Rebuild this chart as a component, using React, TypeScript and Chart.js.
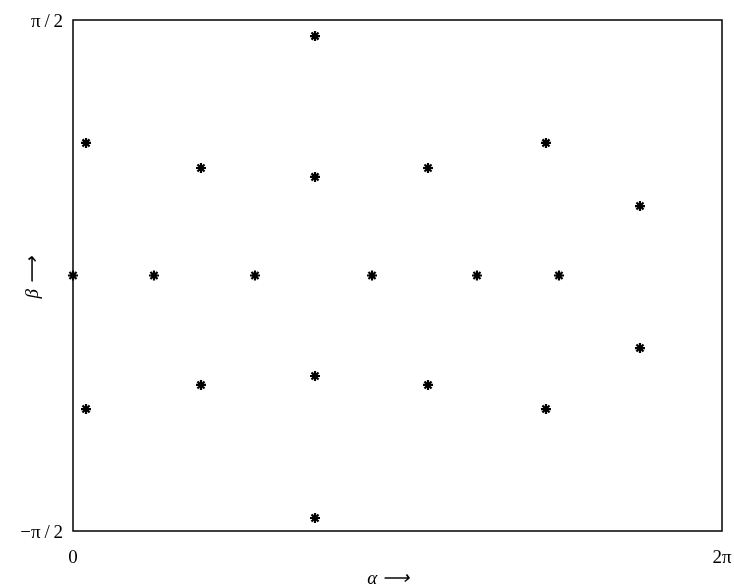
import React, { useEffect, useRef } from "react";
import { Chart, registerables } from "chart.js";

Chart.register(...registerables);

// Data (radians)
const alphaValues = [2.343, 0.126, 4.579, 1.239, 3.437, 2.343, 5.489, 0, 0.784, 1.762, 2.895, 3.911, 4.705, 5.489, 2.343, 1.239, 3.437, 0.126, 4.579, 2.343];
const betaValues = [1.472, 0.815, 0.815, 0.661, 0.661, 0.606, 0.427, 0, 0, 0, 0, 0, 0, -0.446, -0.618, -0.673, -0.673, -0.821, -0.821, -1.491];

const xTickValues = [0, 2 * Math.PI];
const xTickLabels = ["0", "2π"];
const yTickValues = [-Math.PI / 2, Math.PI / 2];
const yTickLabels = ["−π\u2009/\u20092", "π\u2009/\u20092"];
const xTitle = "α ⟶";
const yTitle = "β ⟶";

const boxAndTitles = {
  id: "boxAndTitles",
  afterDraw(chart: any) {
    const { ctx, chartArea } = chart;
    ctx.save();
    ctx.strokeStyle = "#000";
    ctx.lineWidth = 1.5;
    ctx.strokeRect(chartArea.left, chartArea.top, chartArea.right - chartArea.left, chartArea.bottom - chartArea.top);
    ctx.fillStyle = "#000";
    ctx.font = "italic 19px 'Liberation Serif', serif";
    ctx.textAlign = "center";
    ctx.textBaseline = "middle";
    ctx.fillText(xTitle, 388, 579);
    ctx.translate(33, 278);
    ctx.rotate(-Math.PI / 2);
    ctx.fillText(yTitle, 0, 0);
    ctx.restore();
  },
};

export default function App() {
  const ref = useRef<HTMLCanvasElement | null>(null);
  useEffect(() => {
    if (!ref.current) return;
    const points = alphaValues.map((a, i) => ({ x: a, y: betaValues[i] }));
    const chart = new Chart(ref.current, {
      type: "scatter",
      data: {
        datasets: [
          {
            data: points,
            pointStyle: "star",
            pointRadius: 5,
            pointBorderWidth: 2.2,
            borderColor: "#000",
            backgroundColor: "#000",
            clip: false as any,
          },
        ],
      },
      options: {
        animation: false,
        responsive: false,
        events: [],
        layout: { padding: { top: 20, right: 12, left: 0, bottom: 0 } },
        plugins: { legend: { display: false }, tooltip: { enabled: false } },
        scales: {
          x: {
            type: "linear",
            min: 0,
            max: 2 * Math.PI,
            grid: { display: false, drawTicks: false },
            border: { display: false },
            afterFit: (s: any) => {
              s.height = 56;
              s.paddingLeft = 0;
              s.paddingRight = 0;
            },
            afterBuildTicks: (s: any) => {
              s.ticks = xTickValues.map((v) => ({ value: v }));
            },
            ticks: {
              padding: 16,
              maxRotation: 0,
              color: "#000",
              font: { family: "'Liberation Serif', serif", size: 19 },
              callback: (_v: any, i: number) => xTickLabels[i],
            },
          },
          y: {
            type: "linear",
            min: -Math.PI / 2,
            max: Math.PI / 2,
            grid: { display: false, drawTicks: false },
            border: { display: false },
            afterFit: (s: any) => {
              s.width = 73;
              s.paddingTop = 0;
              s.paddingBottom = 0;
            },
            afterBuildTicks: (s: any) => {
              s.ticks = yTickValues.map((v) => ({ value: v }));
            },
            ticks: {
              padding: 10,
              labelOffset: 2,
              color: "#000",
              font: { family: "'Liberation Serif', serif", size: 19 },
              callback: (_v: any, i: number) => yTickLabels[i],
            },
          },
        },
      },
      plugins: [boxAndTitles],
    });
    return () => chart.destroy();
  }, []);
  return (
    <div style={{ position: "fixed", left: 0, top: 0, width: 734, height: 587, background: "#fff" }}>
      <canvas ref={ref} width={734} height={587} style={{ display: "block" }} />
    </div>
  );
}
